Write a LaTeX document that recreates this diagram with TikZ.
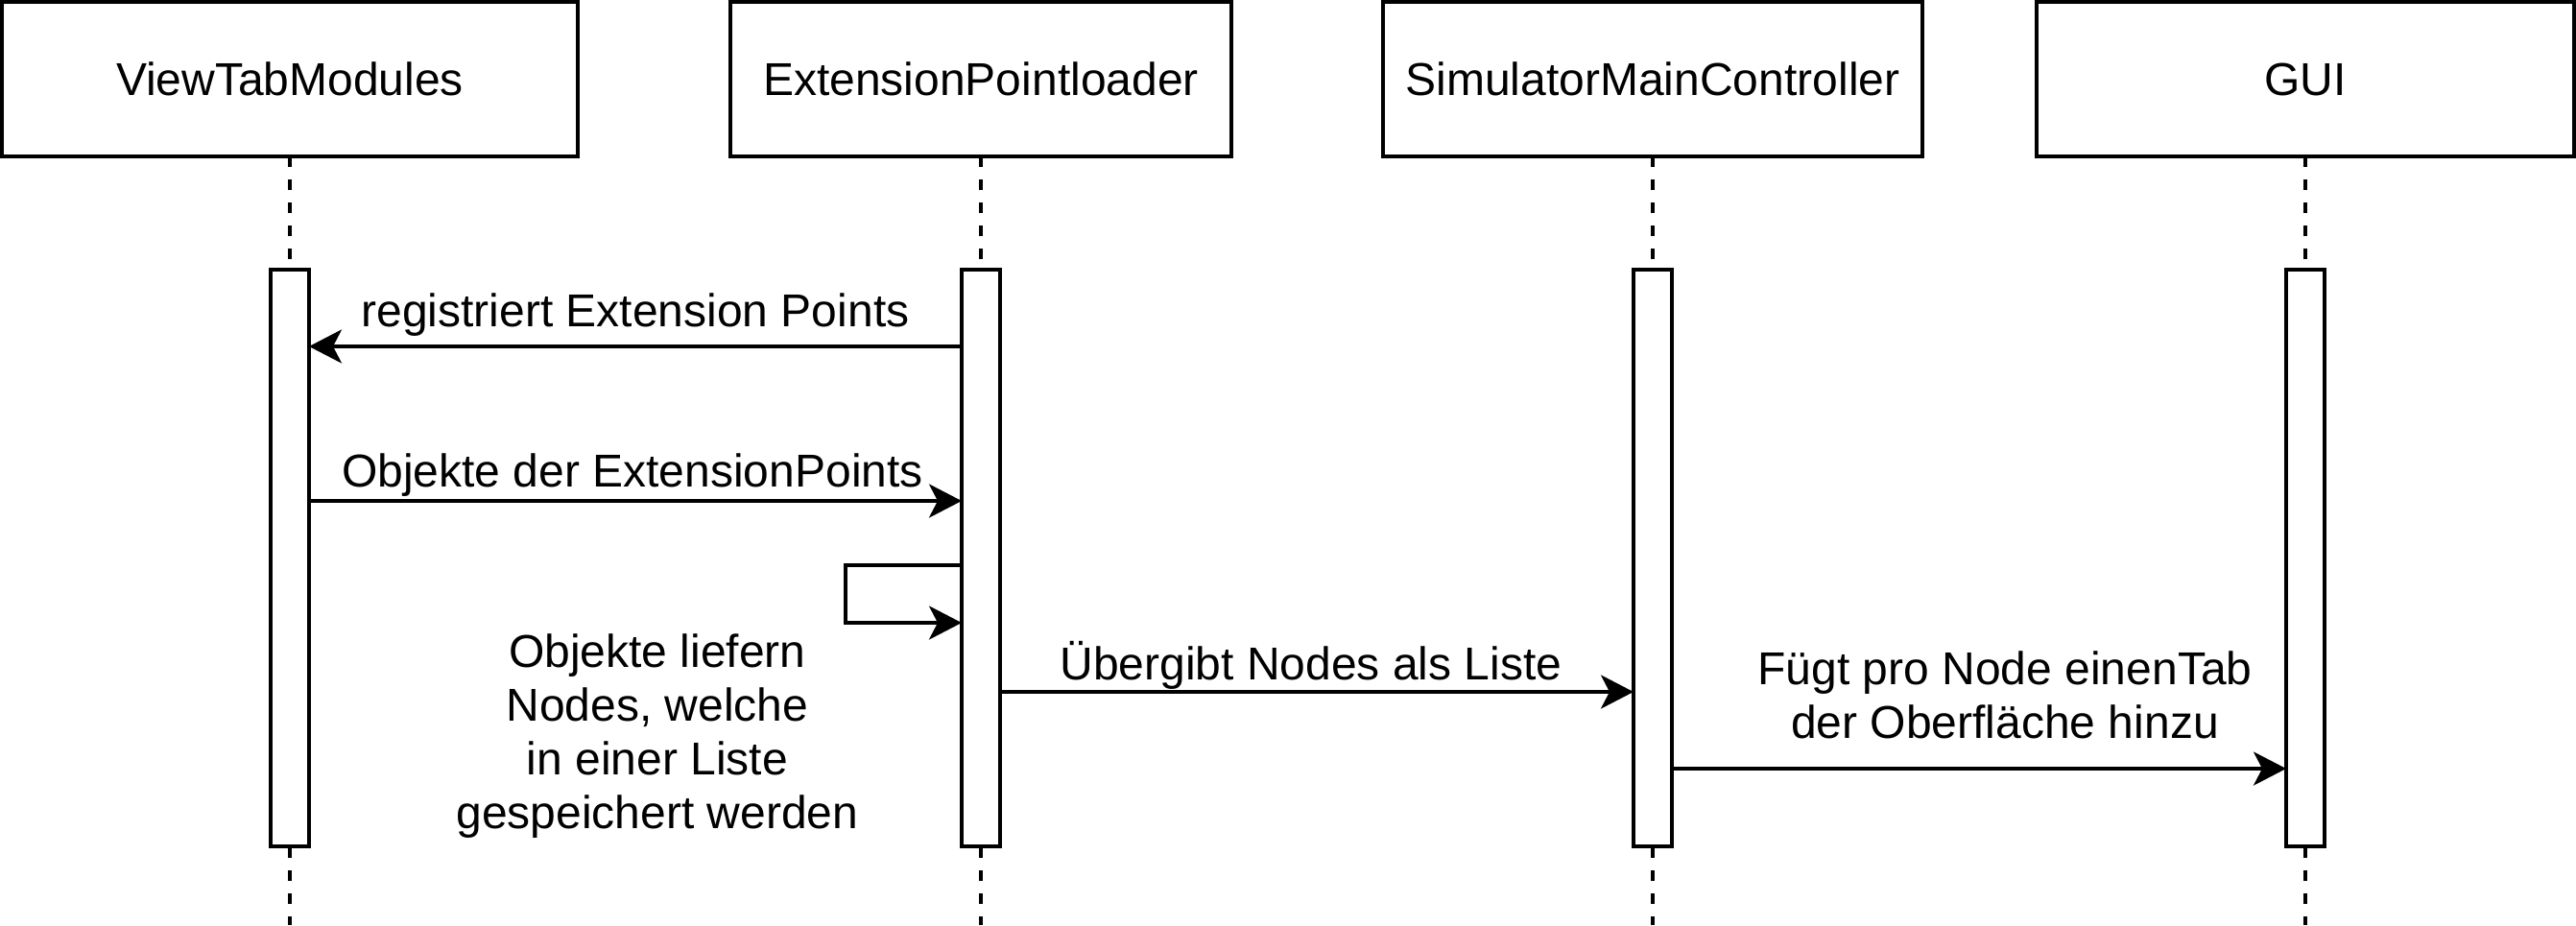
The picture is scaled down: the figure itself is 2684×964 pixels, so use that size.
\documentclass[tikz,border=0pt]{standalone}
\usepackage{fontspec}
\setmainfont{Liberation Sans}
\usetikzlibrary{arrows.meta}
\begin{document}
\begin{tikzpicture}[x=1pt,y=-1pt,
  lbox/.style={draw, line width=4pt, minimum height=161pt, inner sep=0pt, outer sep=0pt, font=\fontsize{48}{56}\selectfont},
  bar/.style={draw, fill=white, line width=4pt, minimum width=40pt, minimum height=601pt, inner sep=0pt, outer sep=0pt},
  life/.style={line width=4pt, dash pattern=on 11pt off 13pt},
  msg/.style={line width=3.6pt, -{Stealth[length=34pt,width=35pt,inset=9pt]}},
  lbl/.style={font=\fontsize{48}{56}\selectfont, inner sep=0pt}
]
\useasboundingbox (0,0) rectangle (2684,964);
% lifeline heads
\node[lbox, minimum width=600pt] (A) at (302,82.5) {ViewTabModules};
\node[lbox, minimum width=522pt] (B) at (1022,82.5) {ExtensionPointloader};
\node[lbox, minimum width=562pt] (C) at (1722,82.5) {SimulatorMainController};
\node[lbox, minimum width=560pt] (D) at (2402,82.5) {GUI};
% dashed lifelines
\coordinate (Aend) at (302,964);
\coordinate (Bend) at (1022,964);
\coordinate (Cend) at (1722,964);
\coordinate (Dend) at (2402,964);
\draw[life] (A.south) -- (Aend);
\draw[life] (B.south) -- (Bend);
\draw[life] (C.south) -- (Cend);
\draw[life] (D.south) -- (Dend);
% activation bars
\node[bar] (bA) at (302,581.5) {};
\node[bar] (bB) at (1022,581.5) {};
\node[bar] (bC) at (1722,581.5) {};
\node[bar] (bD) at (2402,581.5) {};
% messages
\draw[msg] (bB.west |- 0,361) -- (bA.east |- 0,361);
\node[lbl, anchor=base] (l1) at (662,340) {registriert Extension Points};
\draw[msg] (bA.east |- 0,522) -- (bB.west |- 0,522);
\node[lbl, anchor=base] (l2) at (659,507) {Objekte der ExtensionPoints};
\coordinate (loopL1) at (881,589);
\coordinate (loopL2) at (881,649);
\draw[msg] (bB.west |- 0,589) -- (loopL1) -- (loopL2) -- (bB.west |- 0,649);
\node[lbl, anchor=north, align=center] (l5) at (685,661) {Objekte liefern\\Nodes, welche\\in einer Liste\\gespeichert werden};
\draw[msg] (bB.east |- 0,721) -- (bC.west |- 0,721);
\node[lbl, anchor=base] (l3) at (1366,708) {Übergibt Nodes als Liste};
\draw[msg] (bC.east |- 0,801) -- (bD.west |- 0,801);
\node[lbl, anchor=north, align=center] (l4) at (2089,679) {Fügt pro Node einenTab\\der Oberfläche hinzu};
\end{tikzpicture}
\end{document}
